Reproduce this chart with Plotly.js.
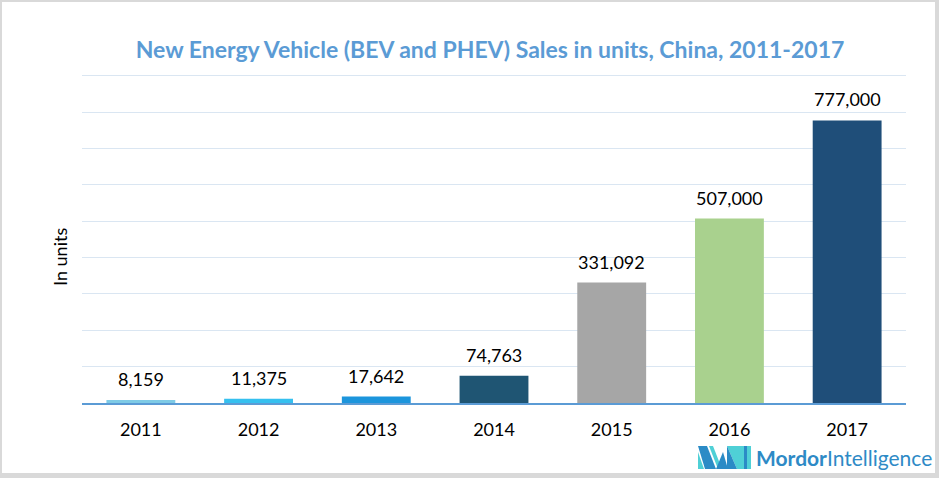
<!DOCTYPE html>
<html>
<head>
<meta charset="utf-8">
<script src="https://cdn.plot.ly/plotly-3.0.1.min.js"></script>
<style>
  html, body { margin: 0; padding: 0; background: #fff; }
  #wrap { position: relative; width: 939px; height: 478px; overflow: hidden; }
  #chart { position: absolute; left: 0; top: 0; width: 939px; height: 478px; }
  #frame { position: absolute; left: 0; top: 0; width: 939px; height: 478px; box-sizing: border-box;
           border-style: solid; border-color: #d9d9d9; border-width: 2px 4px 5px 2px; pointer-events: none; }
</style>
</head>
<body>
<div id="wrap"><div id="chart"></div><div id="frame"></div></div>
<script>
// ---- data ----
const years = ["2011", "2012", "2013", "2014", "2015", "2016", "2017"];
const sales = [8159, 11375, 17642, 74763, 331092, 507000, 777000];
const barColors = ["#7fcbe6", "#35c0ef", "#1c95dc", "#1f5573", "#a6a6a6", "#a9d18e", "#1f4e79"];
const titleText = "New Energy Vehicle (BEV and PHEV) Sales in units, China, 2011-2017";
const yTitleText = "In units";

// ---- geometry helpers ----
const W = 939, H = 478;
const M = { l: 82, r: 33, t: 72, b: 75 };
const PW = W - M.l - M.r, PH = H - M.t - M.b;
const px = x => (x - M.l) / PW;
const py = y => (H - M.b - y) / PH;
const FONT = "Lato, 'Open Sans', sans-serif";

const fmt = v => v.toLocaleString("en-US");

// data labels placed at the category index (category axes use serial numbers)
const annotations = years.map((yr, i) => ({
  x: i, y: sales[i], xref: "x", yref: "y",
  text: fmt(sales[i]), showarrow: false,
  yanchor: "middle", yshift: 21,
  font: { family: FONT, size: 18, color: "#000000" }
}));

annotations.push({
  xref: "paper", yref: "paper", x: px(60), y: py(257),
  text: yTitleText, textangle: -90, showarrow: false,
  xanchor: "center", yanchor: "middle",
  font: { family: FONT, size: 18, color: "#000000" }
});

annotations.push({
  xref: "paper", yref: "paper", x: px(934), y: py(457),
  text: "<b>Mordor</b>Intelligence", showarrow: false,
  xanchor: "right", yanchor: "middle",
  font: { family: FONT, size: 21, color: "#2e8ac6" }
});

function poly(pts, color) {
  const d = "M " + pts.map(p => px(p[0]) + "," + py(p[1])).join(" L ") + " Z";
  return { type: "path", xref: "paper", yref: "paper", path: d,
           fillcolor: color, line: { width: 0 }, layer: "above" };
}
const dark = "#2b8bc6", teal = "#4fd0d6";
const shapes = [
  poly([[698,452],[704,469],[698,469]], teal),
  poly([[698,446],[707,446],[716,469],[705,469]], dark),
  poly([[709,446],[713,446],[722,469],[718,469]], teal),
  poly([[716,469],[723,452],[728,469]], dark),
  poly([[727,446],[744,446],[744,469],[737,469]], teal),
  poly([[727,446],[737,469],[727,469]], dark),
  poly([[744,446],[747,446],[747,469],[744,469]], dark),
  poly([[747,446],[751,446],[751,469],[747,469]], teal)
];

const trace = {
  type: "bar", x: years, y: sales,
  marker: { color: barColors, line: { width: 0 } },
  width: 0.585, hoverinfo: "skip", cliponaxis: false
};

const layout = {
  width: W, height: H,
  margin: M,
  paper_bgcolor: "#ffffff", plot_bgcolor: "#ffffff",
  showlegend: false,
  title: {
    text: "<b>" + titleText + "</b>",
    xref: "container", yref: "container",
    x: 490 / W, y: 1 - 50 / H, xanchor: "center", yanchor: "middle",
    font: { family: FONT, size: 23, color: "#5b9bd5" }
  },
  xaxis: {
    type: "category", range: [-0.5, years.length - 0.5], autorange: false,
    showgrid: false, zeroline: false,
    showline: true, linecolor: "#5b9bd5", linewidth: 2,
    ticks: "", ticklabelstandoff: 9,
    tickfont: { family: FONT, size: 18, color: "#000000" },
    fixedrange: true
  },
  yaxis: {
    range: [0, 910000], autorange: false, dtick: 100000, tick0: 0,
    showgrid: true, gridcolor: "#dae6f2", gridwidth: 1,
    zeroline: false, showticklabels: false, ticks: "",
    fixedrange: true
  },
  annotations: annotations,
  shapes: shapes
};

Plotly.newPlot("chart", [trace], layout, { staticPlot: true, displayModeBar: false });
</script>
</body>
</html>
